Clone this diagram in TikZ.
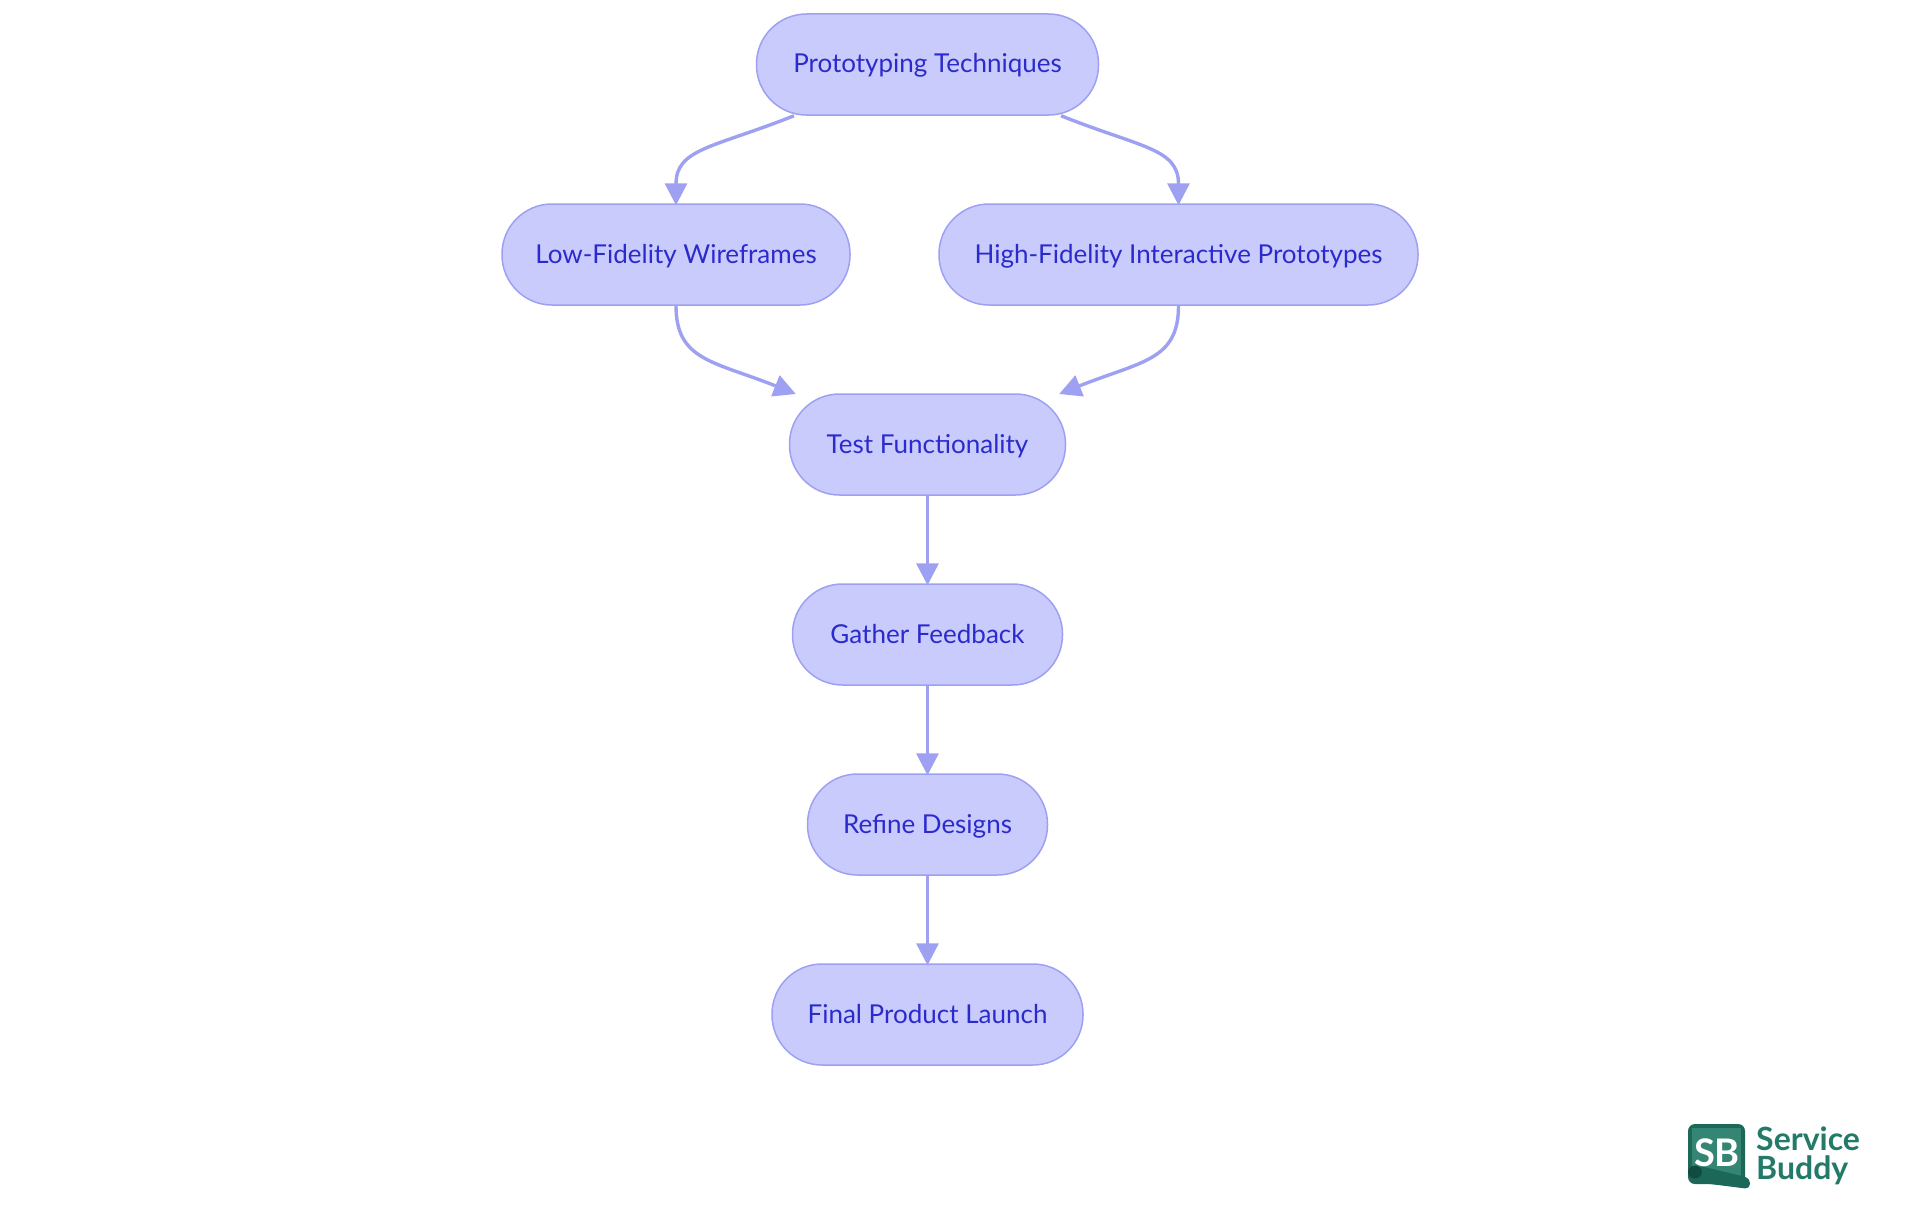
\documentclass[tikz,border=0pt]{standalone}
\usepackage{fontspec}
\setmainfont{Lato}
\usetikzlibrary{arrows.meta}
\definecolor{pill}{HTML}{C9CBFD}
\definecolor{edge}{HTML}{9EA0F1}
\definecolor{ink}{HTML}{2B2BCB}
\definecolor{sbgreen}{HTML}{237A68}
\definecolor{sbdark}{HTML}{124C40}
\tikzset{
  pill/.style={draw=edge,fill=pill,line width=1.5pt,text=ink,rounded corners=50pt,
    minimum height=101pt,inner sep=0pt,text height=19pt,text depth=2pt,font=\fontsize{26}{30}\selectfont},
  link/.style={edge,line width=3.4pt,shorten >=-2pt,-{Triangle[length=22pt,width=22pt]}},
  logotext/.style={text=sbgreen,inner sep=0pt,anchor=west,font=\fontsize{32}{32}\selectfont\bfseries}
}
\begin{document}
\begin{tikzpicture}[x=1pt,y=-1pt]
      \useasboundingbox (0,0) rectangle (1920,1215);
      \draw
        (927.5,64.5) node[pill,minimum width=342pt] (proto){Prototyping Techniques}
        (676,254.5) node[pill,minimum width=348pt] (low){Low-Fidelity Wireframes}
        (1178.5,254.5) node[pill,minimum width=479pt] (high){High-Fidelity Interactive Prototypes}
        (927.5,444.5) node[pill,minimum width=276pt] (test){Test Functionality}
        (927.5,634.5) node[pill,minimum width=270pt] (gather){Gather Feedback}
        (927.5,824.5) node[pill,minimum width=240pt] (refine){Refine Designs}
        (927.5,1014.5) node[pill,minimum width=311pt] (launch){Final Product Launch};
      \begin{scope}[link]
        \draw (proto.201) .. controls +(-80,32) and +(0,-55) .. (low.north);
        \draw (proto.339) .. controls +(80,32) and +(0,-55) .. (high.north);
        \draw (low.south) .. controls +(0,55) and +(-80,-32) .. (test.159);
        \draw (high.south) .. controls +(0,55) and +(80,-32) .. (test.21);
        \draw (test) to (gather);
        \draw (gather) to (refine);
        \draw (refine) to (launch);
      \end{scope}
      % logo
      \fill[sbgreen!85!black,rounded corners=7pt] (1688,1124) rectangle (1745,1184);
      \fill[sbgreen!92!white] (1692,1128) rectangle (1741,1176);
      \draw (1717,1153) node[text=white,inner sep=0pt,font=\fontsize{38}{38}\selectfont\bfseries] (sb){SB};
      \fill[sbgreen!60!sbdark,rounded corners=5pt] (1690,1170) -- (1700,1166) -- (1750,1178) -- (1750,1189) -- (1694,1182) -- cycle;
      \fill[sbdark] (1695,1172) ellipse (7pt and 6.5pt);
      \draw (1756,1139) node[logotext] (service){Service}
        (1756,1170) node[logotext] (buddy){Buddy};
    \end{tikzpicture}
\end{document}
